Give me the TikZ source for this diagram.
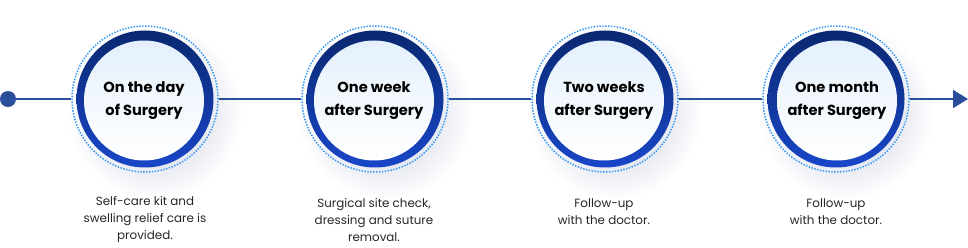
\documentclass[tikz,border=0pt]{standalone}
\usepackage{fontspec}
\setmainfont{Poppins}
\usetikzlibrary{arrows.meta}
\definecolor{linec}{HTML}{2B4E9C}
\definecolor{ringtop}{HTML}{0A2870}
\definecolor{ringbot}{HTML}{1846C8}
\definecolor{dotc}{HTML}{2F96F5}
\definecolor{innertop}{HTML}{E4F0FC}
\definecolor{shadowc}{HTML}{C2C7DC}
\tikzset{
  ring/.style={circle, inner sep=0pt, minimum size=137pt, top color=ringtop, bottom color=ringbot, draw=none},
  core/.style={circle, inner sep=0pt, minimum size=120pt, top color=innertop, bottom color=white, draw=none,
    font=\bfseries\fontsize{14.6}{23.5}\selectfont, align=center, text=black},
  halo/.style={circle, inner sep=0pt, minimum size=146pt, draw=dotc, line width=1.5pt, dash pattern=on 1.4pt off 1.5pt},
  caption/.style={font=\fontsize{11.9}{17}\selectfont, align=center, text=black!85},
  conn/.style={draw=linec, line width=2pt},
}
\begin{document}
\begin{tikzpicture}[x=1pt,y=-1pt]
\useasboundingbox (0,0) rectangle (968,248);
% shadows
\foreach \cx in {145,375,605,836}{
  \shade[inner color=shadowc, outer color=white] (\cx+10,112) circle (88);
}
\node[circle, fill=linec, minimum size=16pt, inner sep=0pt] (start) at (8,99) {};
\coordinate (end) at (968,99);
\foreach \i/\cx in {1/145,2/375,3/605,4/836}{
  \node[halo] (h\i) at (\cx,99) {};
}
\draw[conn] (start) -- (h1);
\draw[conn] (h1) -- (h2);
\draw[conn] (h2) -- (h3);
\draw[conn] (h3) -- (h4);
\draw[conn, -{Triangle[length=15pt,width=18pt]}] (h4) -- (end);
\node[ring] (r1) at (145,99) {};
\node[ring] (r2) at (375,99) {};
\node[ring] (r3) at (605,99) {};
\node[ring] (r4) at (836,99) {};
\node[core] (s1) at (144,100.5) {On the day\\of Surgery};
\node[core] (s2) at (374,100.5) {One week\\after Surgery};
\node[core] (s3) at (604,100.5) {Two weeks\\after Surgery};
\node[core] (s4) at (837,100.5) {One month\\after Surgery};
\node[caption] (c1) at (145,220) {Self-care kit and\\swelling relief care is\\provided.};
\node[caption] (c2) at (374,220) {Surgical site check,\\dressing and suture\\removal.};
\node[caption] (c3) at (604,211.5) {Follow-up\\with the doctor.};
\node[caption] (c4) at (836,211.5) {Follow-up\\with the doctor.};
\end{tikzpicture}
\end{document}
